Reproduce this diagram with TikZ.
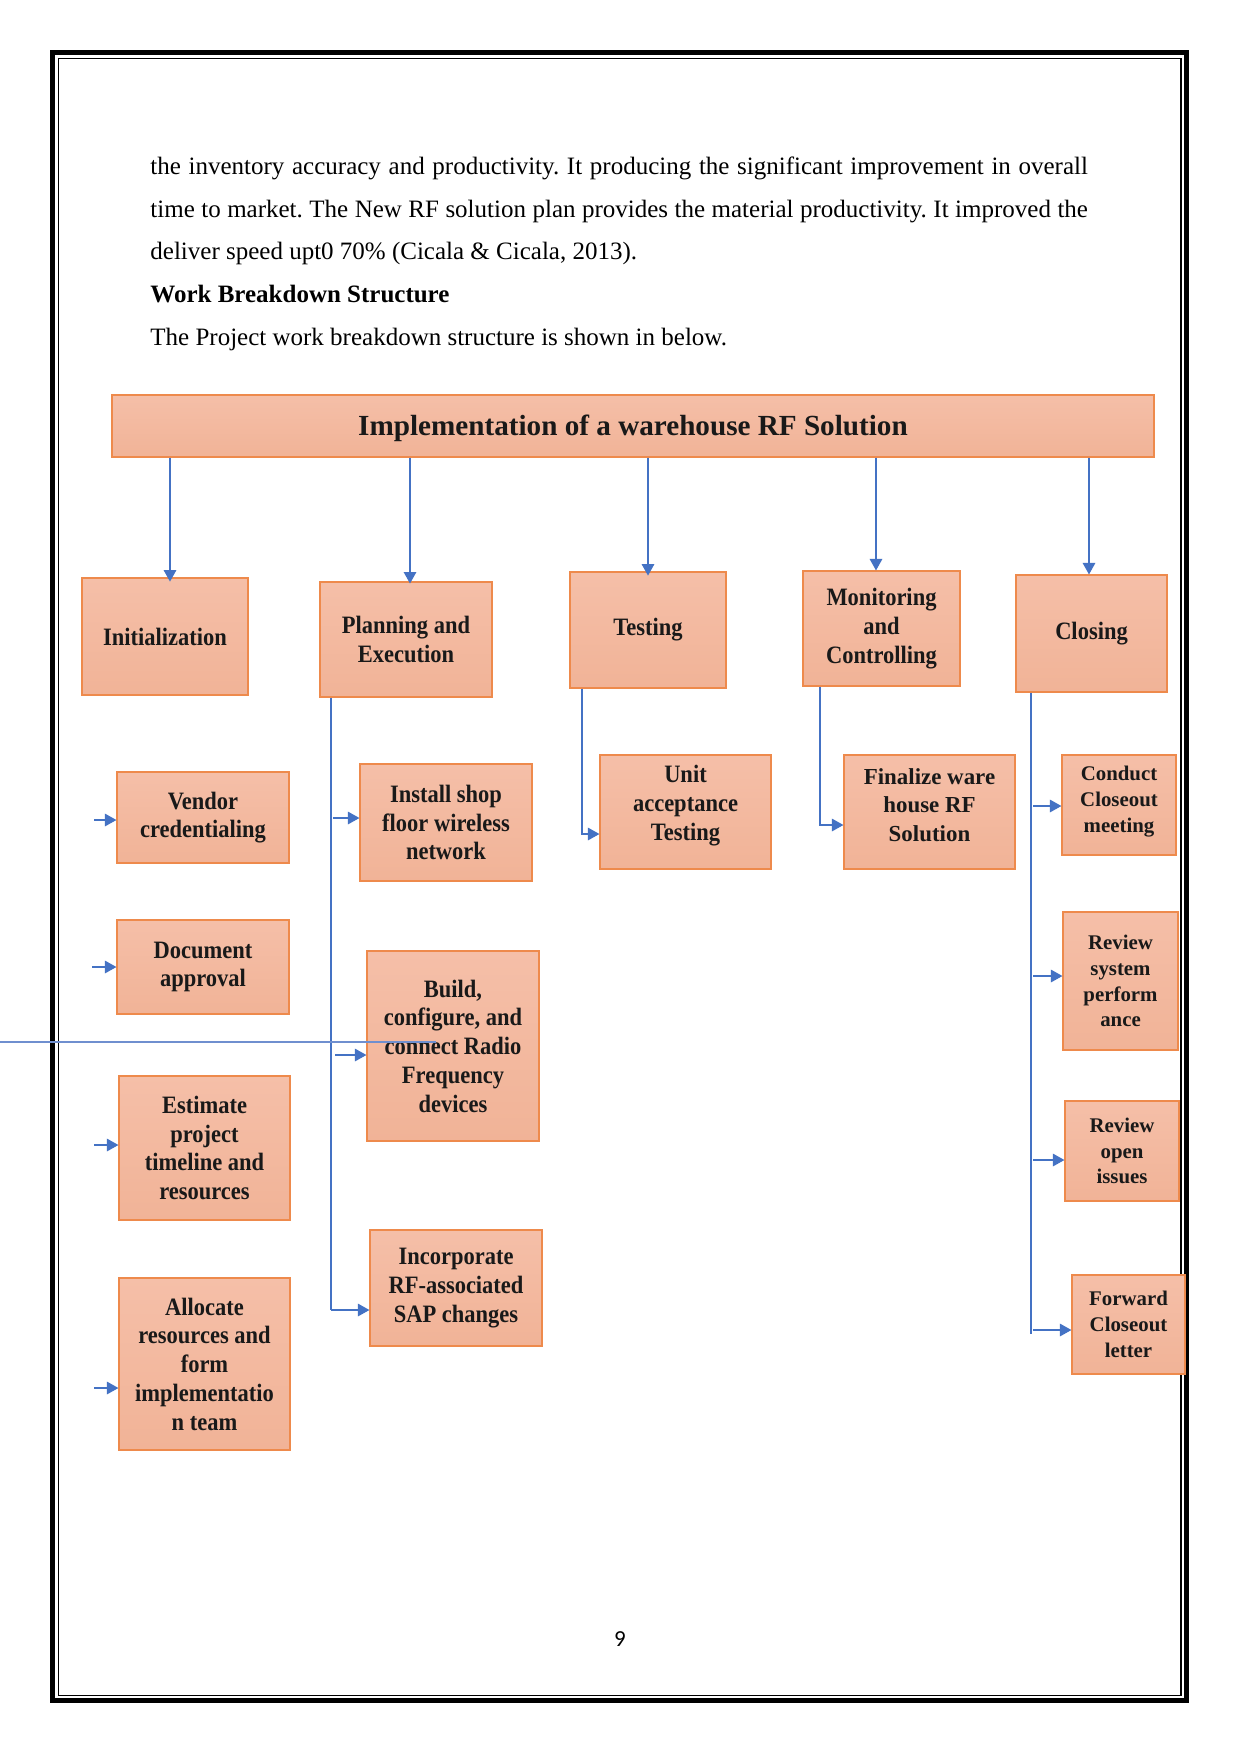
\documentclass[tikz,border=0pt]{standalone}
\usepackage{fontspec}
\setmainfont{Liberation Serif}
\newfontfamily\condfont{Liberation Serif}[FakeStretch=0.9]
\newfontfamily\pagenumfont{Carlito}
\usetikzlibrary{arrows.meta}
\definecolor{boxtop}{HTML}{F5BFA8}
\definecolor{boxbot}{HTML}{F1B397}
\definecolor{boxedge}{HTML}{EE8A4C}
\definecolor{connblue}{HTML}{4472C4}
\definecolor{faintblue}{HTML}{6F8FCF}
\tikzset{
  wbs/.style={draw=boxedge, line width=0.55pt, top color=boxtop, bottom color=boxbot, inner sep=0pt},
  wbstext/.style={inner sep=0pt, align=center, text=black!90, font=\condfont\bfseries\fontsize{12}{13.8}\selectfont},
  widefont/.style={font=\bfseries\fontsize{10}{12.4}\selectfont},
  finfont/.style={font=\bfseries\fontsize{11}{13.7}\selectfont},
  titlefont/.style={font=\bfseries\fontsize{14}{16}\selectfont},
  ln/.style={draw=connblue, line width=0.6pt},
  arr/.style={ln, -{Triangle[length=5.5pt,width=6pt]}},
  faint/.style={draw=faintblue, line width=0.5pt},
  bodytext/.style={anchor=base west, inner sep=0pt, font=\fontsize{12}{14}\selectfont},
}
\newcommand\wbsbox[7]{%
  \node[wbs,minimum width={(#4-#2)*0.48pt},minimum height={(#5-#3)*0.48pt}] (#1) at ({(#2+#4)/2},{(#3+#5)/2}) {};
  \node[wbstext,#6] (#1-t) at (#1.center) {#7};}
\begin{document}
\frenchspacing
\begin{tikzpicture}[x=0.48pt,y=-0.48pt]
\fill[white] (0,0) rectangle (1241,1754);
\useasboundingbox (0,0) rectangle (1241,1754);
% page frame
\draw[line width=2.4pt] (52.5,52.5) rectangle (1186.5,1700.5);
\draw[line width=0.5pt] (58.5,58.5) rectangle (1181,1695.5);
% body text
\node[bodytext] (t1) at (150,174) {\makebox[450pt][s]{the inventory accuracy and productivity. It producing the significant improvement in overall}};
\node[bodytext] (t2) at (150,217) {\makebox[450pt][s]{time to market. The New RF solution plan provides the material productivity. It improved the}};
\node[bodytext] (t3) at (150,259) {deliver speed upt0 70\% (Cicala \& Cicala, 2013).};
\node[bodytext] (t4) at (150,302) {\bfseries Work Breakdown Structure};
\node[bodytext] (t5) at (150,345) {The Project work breakdown structure is shown in below.};
% boxes
\wbsbox{top}{112}{395}{1154}{457}{titlefont,yshift=-1.3pt}{Implementation of a warehouse RF Solution}
\wbsbox{init}{82}{578}{248}{695}{}{Initialization}
\wbsbox{plan}{320}{582}{492}{697}{}{Planning and\\Execution}
\wbsbox{test}{570}{572}{726}{688}{}{Testing}
\wbsbox{mon}{803}{571}{960}{686}{}{Monitoring\\and\\Controlling}
\wbsbox{close}{1016}{575}{1167}{692}{}{Closing}
\wbsbox{vendor}{117}{772}{289}{863}{}{Vendor\\credentialing}
\wbsbox{docu}{117}{920}{289}{1014}{}{Document\\approval}
\wbsbox{estim}{119}{1076}{290}{1220}{}{Estimate\\project\\timeline and\\resources}
\wbsbox{alloc}{119}{1278}{290}{1450}{}{Allocate\\resources and\\form\\implementatio\\n team}
\wbsbox{install}{360}{764}{532}{881}{}{Install shop\\floor wireless\\network}
\wbsbox{build}{367}{951}{539}{1141}{}{Build,\\configure, and\\connect Radio\\Frequency\\devices}
\wbsbox{sap}{370}{1230}{542}{1346}{}{Incorporate\\RF-associated\\SAP changes}
\wbsbox{unit}{600}{755}{771}{869}{yshift=3.2pt}{Unit\\acceptance\\Testing}
\wbsbox{fin}{844}{755}{1015}{869}{finfont,yshift=3.4pt}{Finalize ware\\house RF\\Solution}
\wbsbox{conduct}{1062}{755}{1176}{855}{widefont,yshift=1.8pt}{Conduct\\Closeout\\meeting}
\wbsbox{rsys}{1063}{912}{1178}{1050}{widefont}{Review\\system\\perform\\ance}
\wbsbox{ropen}{1065}{1101}{1179}{1201}{widefont}{Review\\open\\issues}
\wbsbox{fwd}{1072}{1275}{1185}{1374}{widefont}{Forward\\Closeout\\letter}
% level-1 arrows
\coordinate (a1) at (170,0);
\coordinate (a2) at (410,0);
\coordinate (a3) at (648,0);
\coordinate (a4) at (876,0);
\coordinate (a5) at (1089,0);
\draw[arr] (top.south -| a1) -- ([yshift=-2pt]a1 |- init.north);
\draw[arr] (top.south -| a2) -- ([yshift=-1pt]a2 |- plan.north);
\draw[arr] (top.south -| a3) -- ([yshift=-2pt]a3 |- test.north);
\draw[arr] (top.south -| a4) -- (a4 |- mon.north);
\draw[arr] (top.south -| a5) -- (a5 |- close.north);
% initialization column (free arrows)
\coordinate (i1) at (94,820);
\coordinate (i2) at (92,967);
\coordinate (i3) at (94,1145);
\coordinate (i4) at (94,1388);
\draw[arr] (i1) -- (vendor.west |- i1);
\draw[arr] (i2) -- (docu.west |- i2);
\draw[arr] (i3) -- (estim.west |- i3);
\draw[arr] (i4) -- (alloc.west |- i4);
% planning column
\coordinate (p1) at (333,818);
\coordinate (p2) at (335,1055);
\coordinate (p3) at (331,1310);
\draw[ln] (plan.south -| p3) -- (p3);
\draw[arr] (p3) -- (sap.west |- p3);
\draw[arr] (p1) -- (install.west |- p1);
\draw[arr] (p2) -- (build.west |- p2);
% testing / monitoring
\coordinate (tt) at (582,834);
\draw[arr] (test.south -| tt) |- (unit.west |- tt);
\coordinate (mm) at (820,825);
\draw[arr] (mon.south -| mm) |- (fin.west |- mm);
% closing column
\coordinate (c0) at (1031,1334);
\coordinate (c1) at (1033,806);
\coordinate (c2) at (1033,976);
\coordinate (c3) at (1033,1160);
\coordinate (c4) at (1033,1330);
\draw[ln] (close.south -| c0) -- (c0);
\draw[arr] (c1) -- (conduct.west |- c1);
\draw[arr] (c2) -- (rsys.west |- c2);
\draw[arr] (c3) -- (ropen.west |- c3);
\draw[arr] (c4) -- (fwd.west |- c4);
% stray horizontal line
\coordinate (h0) at (0,1042);
\coordinate (h1) at (436,1042);
\draw[faint] (h0) -- (h1);
% page number
\node[font=\pagenumfont\fontsize{11}{13}\selectfont, inner sep=0pt] (pg) at (620,1639) {9};
\end{tikzpicture}
\end{document}
